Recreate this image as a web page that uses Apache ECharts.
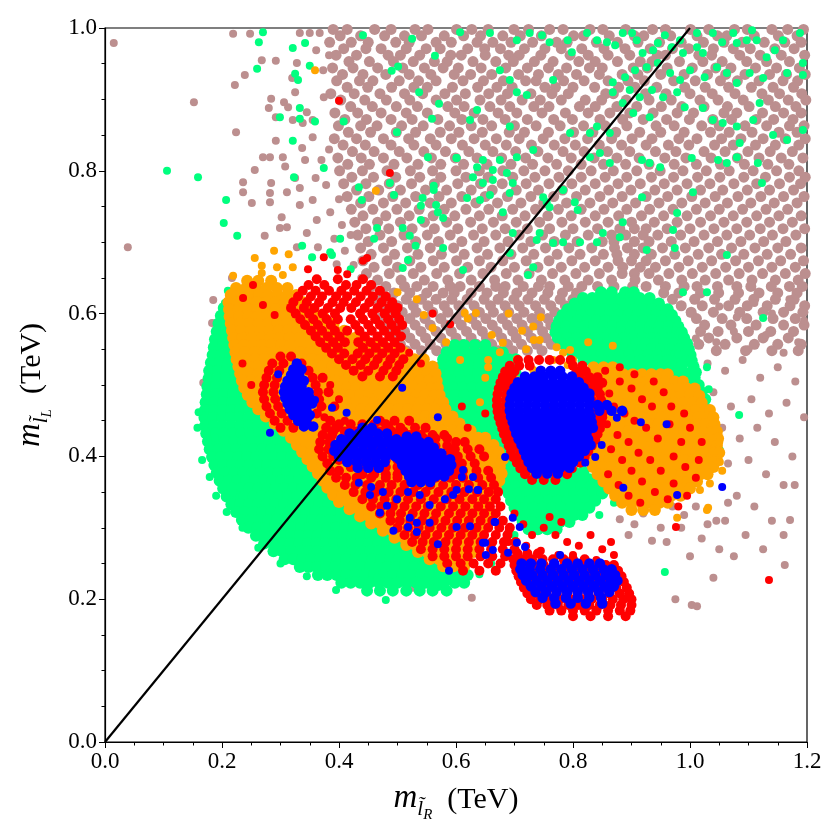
<!DOCTYPE html>
<html>
<head>
<meta charset="utf-8" />
<script src="https://cdn.jsdelivr.net/npm/echarts@6.0.0/dist/echarts.min.js"></script>
<style>
html, body { margin: 0; padding: 0; background: #fff; }
#main { width: 840px; height: 840px; }
</style>
</head>
<body>
<div id="main"></div>
<script>
// all masses in GeV; a row is [y, x1, x2, ...], a point is [x, y]

var brownRows = [
[998,390,414,461,489,530,552,601,627,655,699,724,760,783,829,851,890,936,958,1001,1032,1076,1098,1140,1167,1194],
[989,402,437,478,512,541,580,613,642,680,710,746,801,818,862,905,921,967,1012,1047,1063,1110,1151,1183],
[980,384,421,450,497,520,566,592,636,663,694,731,772,790,840,876,911,948,985,1023,1058,1089,1127,1162,1190],
[971,408,446,472,515,549,573,620,649,676,717,752,780,815,853,889,932,970,998,1040,1074,1103,1145,1178],
[962,395,430,484,505,538,591,609,650,690,708,745,795,826,860,897,944,958,1015,1037,1085,1120,1156,1196],
[953,417,452,493,527,563,585,629,668,698,734,766,810,838,876,915,935,982,1022,1055,1097,1131,1170],
[944,389,424,466,509,546,578,604,643,685,722,758,789,828,850,903,927,961,1004,1044,1070,1112,1148,1187],
[935,406,441,480,520,557,597,625,661,707,741,775,806,845,884,911,950,990,1030,1061,1094,1136,1165,1197],
[926,396,435,458,503,536,566,612,647,681,719,737,784,819,860,894,922,972,1009,1052,1081,1118,1159,1184],
[917,414,449,490,528,551,594,637,670,696,752,770,800,837,878,906,943,991,1026,1066,1105,1142,1177],
[908,386,426,470,512,543,581,616,656,688,728,764,792,856,869,924,959,1000,1038,1077,1123,1153,1191],
[899,403,444,481,521,566,601,641,677,713,744,780,821,849,891,930,968,1017,1048,1091,1134,1168,1198],
[890,420,457,498,534,586,614,658,692,733,759,811,838,875,909,951,986,1024,1064,1101,1146,1181],
[881,393,432,472,515,551,598,631,672,704,747,787,826,863,897,937,978,1006,1058,1080,1124,1160,1190],
[872,410,447,489,525,569,610,646,684,722,767,799,846,885,920,960,999,1039,1071,1113,1143,1176],
[863,399,437,465,507,544,589,626,661,700,737,778,818,855,892,942,973,1020,1050,1094,1131,1170,1195],
[854,416,454,498,531,573,605,645,691,717,758,801,834,873,914,950,990,1035,1067,1106,1152,1183],
[845,392,430,476,519,556,592,631,669,708,749,786,825,866,901,935,981,1012,1054,1087,1125,1163,1197],
[836,407,445,489,528,566,611,650,686,729,768,804,845,883,925,963,998,1042,1074,1112,1146,1186],
[827,423,460,503,545,582,622,663,702,740,783,819,859,897,941,976,1024,1060,1099,1137,1175],
[818,398,438,476,516,558,599,636,678,719,757,797,836,875,913,957,993,1036,1081,1118,1156,1193],
[809,415,452,494,535,574,613,653,694,731,772,814,852,890,930,973,1011,1052,1093,1133,1169],
[800,401,440,482,522,560,600,640,680,716,752,792,831,869,909,949,988,1028,1067,1108,1148,1186],
[791,422,459,497,538,574,617,655,697,735,776,814,855,892,934,972,1013,1051,1092,1129,1170,1197],
[782,408,446,486,524,563,603,642,679,720,759,798,838,877,915,956,995,1034,1075,1114,1153,1189],
[773,430,468,505,548,584,626,662,703,741,782,821,861,899,940,978,1018,1056,1098,1136,1177],
[764,414,451,492,531,571,610,650,688,728,767,806,846,884,925,962,1003,1043,1082,1121,1160,1195],
[755,437,476,514,556,592,634,671,711,750,789,829,868,907,947,986,1026,1064,1104,1144,1183],
[746,421,458,499,537,580,617,656,697,736,775,814,853,892,931,971,1011,1050,1090,1130,1167],
[737,441,480,520,561,598,640,679,718,757,797,838,878,917,955,995,1035,1074,1114,1152,1190],
[728,427,466,505,546,584,625,664,703,743,781,821,860,900,939,978,1018,1058,1097,1136,1175],
[719,446,485,525,563,603,645,684,722,760,800,842,880,905,925,961,1000,1041,1080,1120,1159,1196],
[710,432,470,511,551,590,630,668,708,748,787,826,866,890,920,945,984,1024,1063,1102,1141,1181],
[701,450,490,531,570,610,648,689,728,768,807,850,870,905,930,968,1007,1047,1087,1126,1164],
[692,437,476,517,556,596,636,675,714,753,793,832,871,893,920,953,992,1032,1071,1111,1150,1190],
[683,455,495,535,575,614,654,694,733,773,812,852,875,905,934,974,1014,1054,1092,1132,1172],
[674,441,482,521,561,601,640,680,720,759,798,838,877,900,925,958,997,1037,1078,1117,1155,1194],
[665,460,500,540,580,620,660,700,740,780,820,860,885,915,941,981,1021,1061,1100,1140,1180],
[656,447,486,527,567,606,646,686,725,765,805,845,884,905,930,964,1004,1044,1084,1124,1163,1197],
[647,466,506,546,586,626,666,706,746,786,826,866,906,946,986,1026,1066,1106,1146,1185],
[638,455,480,512,533,561,590,607,640,668,684,715,741,760,792,815,842,870,902,925,958,990,1012,1047,1080,1104,1139,1170,1192],
[629,470,494,521,550,578,597,626,653,681,704,730,757,782,806,955,981,1018,1049,1083,1118,1150,1183],
[620,462,489,515,541,566,593,619,648,672,699,723,751,778,800,970,1008,1042,1077,1109,1146,1178],
[611,473,500,527,552,580,605,631,659,684,708,736,762,787,985,1021,1066,1098,1132,1171,1196],
[602,480,508,532,560,586,611,640,664,690,716,743,769,1002,1040,1085,1125,1160,1193],
[593,468,494,521,547,574,600,627,651,679,704,730,757,1011,1055,1097,1142,1180],
[584,477,503,530,556,583,609,635,662,688,713,740,762,1025,1070,1113,1160,1195],
[575,488,512,540,566,592,618,645,670,697,722,748,1018,1048,1100,1138,1177],
[566,496,521,548,574,600,626,652,678,703,729,754,1032,1080,1125,1168],
[557,505,530,556,583,609,635,661,688,712,738,763,1015,1060,1110,1150,1190],
[548,515,541,567,594,620,645,672,697,722,747,1045,1095,1140,1185]
];

var brownPts = [
[15,979],[39,693],[152,896],[219,992],[248,992],[268,955],[292,954],[239,934],[222,920],[284,901],
[306,896],[280,888],[292,875],[313,889],[224,854],[292,842],[270,819],[282,819],[304,819],[308,806],
[236,784],[256,801],[284,783],[236,770],[282,769],[311,770],[251,755],[282,756],[273,709],[302,735],
[311,721],[328,951],[320,930],[325,910],[321,871],[338,867],[355,847],[337,832],[342,815],[325,790],
[333,776],[333,752],[355,759],[362,731],[345,713],[364,693],[328,693],[299,720],[345,882],[355,871],
[373,941],[383,962],[361,969],[333,993],[350,993],[367,993],[370,815],[378,780],[385,742],[392,705],
[405,724],[410,688],[374,903],[360,790],[383,830],[400,760],[420,710],[396,669],[425,668],[438,650],
[183,587],[168,503],[202,419],[234,356],[234,342],[282,329],[362,265],[362,251],[407,241],[482,223],
[526,216],[578,217],[627,202],[217,650],[185,619],[196,470],[214,395],[305,300],[335,282],[440,232],
[1000,600],[1025,585],[1050,610],[1080,595],[1110,615],[1140,600],[1170,620],[1195,590],[1010,565],[1045,560],
[1075,575],[1100,550],[1130,570],[1160,545],[1185,560],[990,540],[1030,530],[1060,520],[1090,535],[1120,510],
[1150,525],[1180,505],[1005,500],[1040,490],[1070,470],[1105,480],[1135,460],[1165,475],[1195,455],[1055,440],
[1085,425],[1115,440],[1145,420],[1175,400],[1065,390],[1100,395],[1130,375],[1160,360],[1179,360],[1080,345],
[1110,330],[1140,310],[1171,311],[1060,310],[1095,290],[1160,290],[1125,270],[1162,248],[1075,260],[1003,192],
[1012,190],[975,200],[1040,230],[1000,260],[1020,285],[985,300],[1010,330],[970,330],[950,300],[935,282],
[905,305],[920,320],[880,312],[895,290],[1045,310],[1065,335],[1050,270],[960,280],[990,318],[1030,305]
];

var greenRows = [
[608,203,219],[597,198,214,230],[586,194,209,226],[575,191,207,222,237],[564,188,204,219,234],
[553,186,201,216,231],[542,184,199,214,229,243],[531,181,196,211,226,240],[520,178,193,208,223,238,251],
[509,177,192,207,222,237,252],[498,175,190,205,220,235,250,263],[487,174,189,204,219,234,249,264],
[476,172,187,202,217,232,247,262,277],[465,171,186,201,216,231,246,261,276,289],
[454,170,185,200,215,230,245,260,275,290,301],[443,171,186,201,216,231,246,261,276,291,306],
[432,173,188,203,218,233,248,263,278,293,308,319],[421,176,191,206,221,236,251,266,281,296,311,325],
[410,179,194,209,224,239,254,269,284,299,314,329],[399,183,198,213,228,243,258,273,288,303,318,333,343],
[388,187,202,217,232,247,262,277,292,307,322,337,352],[377,191,206,221,236,251,266,281,296,311,326,341,356,365],
[366,196,211,226,241,256,271,286,301,316,331,346,361,374],[355,202,217,232,247,262,277,292,307,322,337,352,367,382],
[344,208,223,238,253,268,283,298,313,328,343,358,373,388],[333,216,231,246,261,276,291,306,321,336,351,366,381,396,406],
[322,224,239,254,269,284,299,314,329,344,359,374,389,404,419],
[311,234,249,264,279,294,309,324,339,354,369,384,399,414,429,442],
[300,245,260,275,290,305,320,335,350,365,380,395,410,425,440,455,466],
[289,258,273,288,303,318,333,348,363,378,393,408,423,438,453,468,483,496],
[278,272,287,302,317,332,347,362,377,392,407,422,437,452,467,482,497,512,524],
[267,288,303,318,333,348,363,378,393,408,423,438,453,468,483,498,513,528,543,552],
[256,307,322,337,352,367,382,397,412,427,442,457,472,487,502,517,532,547,562,577],
[245,333,348,363,378,393,408,423,438,453,468,483,498,513,528,543,558,573,588,603],
[234,364,380,396,412,428,444,460,476,492,508,524,540,556,572,588,604,620],
[223,404,420,436,452,468,484,500,516,532,548,564,580,598,614],
[212,448,470,492,515,538,560,584],
[630,848,866,889,904],[622,817,833,850,866,882,898,914,931],[614,803,819,835,851,867,883,899,915,931,947],
[606,791,807,823,839,855,871,887,903,919,935,951,962],[598,782,798,814,830,846,862,878,894,910,926,942,958,969],
[590,776,792,808,824,840,856,872,888,904,920,936,952,968,975],[582,772,788,804,820,836,852,868,884,900,916,932,948,964,980],
[574,770,786,802,818,834,850,866,882,898,914,930,946,962,978,986],[566,774,790,806,822,838,854,870,886,902,918,934,950,966,982,990],
[558,780,796,812,828,844,860,876,892,908,924,940,956,972,988,995],[550,790,806,822,838,854,870,886,902,918,934,950,966,982,998],
[542,800,816,832,848,864,880,896,912,928,944,960,976,992,1001],[534,818,834,850,866,882,898,914,930,946,962,978,994,1003],
[526,842,858,874,890,906,922,938,954,970,986,1006],[518,858,874,890,906,922,938,954,970,986,1002,1010],
[510,880,896,912,928,944,960,976,992,1008],[500,905,921,937,953,969,985,1001,1015],[490,940,956,972,988,1004,1020],
[480,962,978,994,1010,1026],[470,976,992,1008,1024],[460,986,1002,1018,1031],[450,990,1006,1022],
[440,996,1012,1026],[430,1000,1016],[420,1004,1020],[410,1008],
[556,598,614,632,650],[546,584,600,616,632,648,664,680],[536,578,594,610,626,642,658,674,690,702],
[526,575,591,607,623,639,655,671,687,703],[516,574,590,606,622,638,654,670,686,702],
[506,576,592,608,624,640,656,672,688],[496,579,595,611,627,643,659,675,688],[486,582,598,614,630,646,662,678],
[476,586,602,618,634,650,666,680],[466,590,606,622,638,654,670,682],[456,596,612,628,644,660,676],
[446,603,619,635,651,667,682],[436,612,628,644,660,676,690],[426,650,666,682,694],[416,660,676,692],
[406,666,682,696],[396,670,686,700],[386,675,691,706],
[378,690,706,722,738,754,770,786,802,818],[368,684,700,716,732,748,764,780,796,812,828,844],
[358,686,702,718,734,750,766,782,798,814,830,846,862],[348,690,706,722,738,754,770,786,802,818,834,850],
[338,694,710,726,742,758,774,790,806,822,838],[328,700,716,732,748,764,780,796,812,828],
[318,706,722,738,754,770,786,802,816],[308,714,730,746,762,778,794],[298,724,740,756,772]
];

var greenPts = [
[607,994],[658,993],[704,983],[726,993],[747,990],[760,980],[791,983],[798,966],[824,993],[841,983],
[858,980],[872,976],[885,993],[901,993],[909,983],[919,965],[937,969],[945,979],[957,990],[969,973],
[983,983],[988,965],[1012,993],[1012,973],[1022,965],[1039,993],[1055,980],[1074,993],[1080,979],[1097,983],
[1106,997],[1114,983],[1131,959],[1145,969],[1159,983],[1188,993],[1193,951],[1193,934],[1166,937],[1125,930],
[1102,937],[1080,923],[1063,937],[1046,945],[1025,931],[1000,941],[983,927],[966,937],[945,951],[926,945],
[906,941],[889,931],[868,924],[897,913],[914,903],[935,913],[954,903],[978,910],[991,889],[1022,888],
[1039,871],[1056,867],[1080,862],[1085,839],[1108,871],[1119,895],[1142,850],[1166,843],[1193,857],[903,881],
[931,875],[885,895],[868,910],[841,862],[863,853],[829,853],[829,819],[846,825],[863,811],[918,815],
[931,811],[949,805],[1003,818],[1048,815],[1063,811],[1080,819],[1116,811],[1123,783],[1005,770],[918,763],
[978,741],[885,728],[971,717],[926,689],[974,692],[1063,682],[880,707],[851,713],[841,700],[812,700],
[783,700],[766,699],[738,703],[760,749],[755,756],[803,756],[808,745],[783,773],[749,763],[743,713],
[697,713],[692,685],[732,665],[612,661],[723,654],[704,819],[687,797],[663,787],[646,783],[636,805],
[646,815],[619,762],[641,759],[658,766],[680,742],[663,801],[675,815],[629,791],[697,783],[601,818],
[732,829],[692,769],[766,927],[721,906],[704,910],[692,927],[675,941],[636,885],[624,871],[692,862],
[795,853],[270,994],[263,980],[260,943],[321,972],[342,979],[350,947],[325,936],[330,927],[333,888],
[299,875],[333,873],[359,869],[321,842],[408,869],[374,804],[323,791],[106,800],[159,791],[207,759],
[203,727],[226,709],[441,990],[525,985],[564,961],[490,940],[501,946],[537,910],[571,894],[559,873],
[499,854],[552,819],[601,818],[434,777],[439,759],[487,783],[494,766],[543,762],[540,751],[562,779],
[562,773],[566,752],[569,742],[578,734],[540,731],[509,720],[465,720],[460,705],[402,705],[521,709],
[531,695],[578,692],[337,695],[354,679],[385,686],[518,675],[509,664],[388,682],[420,662],[455,640],
[1125,594],[1029,525],[1032,494],[1084,458],[1051,409],[988,630],[1029,630],[954,573],[980,543],[1025,420],
[1034,445],[957,238],[480,199],[427,227],[465,230],[569,217],[174,433],[188,426],[179,371],[219,349],
[205,615],[205,603],[200,458],[186,560],[210,632],[640,235],[660,250],[700,290],[845,318],[870,335],
[160,462],[158,440],[166,395],[190,345],[208,322],[235,300],[262,272],[300,250],[345,232],[395,213]
];

var orangeRows = [
[646,243,262,284],[636,224,241,258,276,294,312],[626,215,231,247,263,279,295,311,327],
[616,211,227,243,259,275,291,307,323,339],[606,212,228,244,260,276,292,308,324,340,356],
[596,213,229,245,261,277,293,309,325,341,357,373],[586,215,231,247,263,279,295,311,327,343,359,375,391],
[576,217,233,249,265,281,297,313,329,345,361,377,393,409],
[566,219,235,251,267,283,299,315,331,347,363,379,395,411,427,443],
[556,221,237,253,269,285,301,317,333,349,365,381,397,413,429,445,461,476],
[546,223,239,255,271,287,303,319,335,351,367,383,399,415,431,447,463,479,495,511],
[536,225,241,257,273,289,305,321,337,353,369,385,401,417,433,449,465,481,497,513,529,545],
[526,228,244,260,276,292,308,324,340,356,372,388,404,420,436,452,468,484,500,516,532,548,560],
[516,231,247,263,279,295,311,327,343,359,375,391,407,423,439,455,471,487,503,519,535,551,565],
[506,234,250,266,282,298,314,330,346,362,378,394,410,426,442,458,474,490,506,522,538,554,567],
[496,238,254,270,286,302,318,334,350,366,382,398,414,430,446,462,478,494,510,526,542,558,569],
[486,244,260,276,292,308,324,340,356,372,388,404,420,436,452,468,484,500,516,532,548,564,572],
[476,252,268,284,300,316,332,348,364,380,396,412,428,444,460,476,492,508,524,540,556,572,578],
[466,262,278,294,310,326,342,358,374,390,406,422,438,454,470,486,502,518,534,550,566,582],
[456,275,291,307,323,339,355,371,387,403,419,435,451,467,483,499,515,531,547,563,579,594],
[446,290,306,322,338,354,370,386,402,418,434,450,466,482,498,514,530,546,562,578,594,606],
[436,305,321,337,353,369,385,401,417,433,449,465,481,497,513,529,545,561,577,593,609,625],
[426,318,334,350,366,382,398,414,430,446,462,478,494,510,526,542,558,574,590,606,622,638,650],
[416,328,344,360,376,392,408,424,440,456,472,488,504,520,536,552,568,584,600,616,632,648,664],
[406,337,353,369,385,401,417,433,449,465,481,497,513,529,545,561,577,593,609,625,641,657,673],
[396,346,362,378,394,410,426,442,458,474,490,506,522,538,554,570,586,602,618,634,650,666,680],
[386,355,371,387,403,419,435,451,467,483,499,515,531,547,563,579,595,611,627,643,659,675],
[376,364,380,396,412,428,444,460,476,492,508,524,540,556,572,588,604,620,636,652,668,678],
[366,372,388,404,420,436,452,468,484,500,516,532,548,564,580,596,612,628,644,660,674],
[356,380,396,412,428,444,460,476,492,508,524,540,556,572,588,604,620,636,652,668],
[346,390,406,422,438,454,470,486,502,518,534,550,566,582,598,614,630,646,662],
[336,400,416,432,448,464,480,496,512,528,544,560,576,592,608,624,640,656],
[326,418,434,450,466,482,498,514,530,546,562,578,594,610,626,642,656],
[316,436,452,468,484,500,516,532,548,564,580,596,612,628,644,652],
[306,455,471,487,503,519,535,551,567,583,599,615,631,647],
[296,475,491,507,523,539,555,571,587,603,619,635,644],
[286,495,511,527,543,559,575,591,607,623,639],[276,515,531,547,563,579,595,611,627,636],
[266,535,551,567,583,599,615,630],[256,555,571,587,603,619],[246,578,596,614],
[525,835,852,868],[515,822,838,854,870,886,902,918,934,950,962],
[505,830,846,862,878,894,910,926,942,958,974,988],[495,835,851,867,883,899,915,931,947,963,979,995,1008],
[485,840,856,872,888,904,920,936,952,968,984,1000,1016],[475,845,861,877,893,909,925,941,957,973,989,1005,1020],
[465,850,866,882,898,914,930,946,962,978,994,1010,1026,1034],[455,854,870,886,902,918,934,950,966,982,998,1014,1030,1040],
[445,850,866,882,898,914,930,946,962,978,994,1010,1026,1042],[435,846,862,878,894,910,926,942,958,974,990,1006,1022,1038,1046],
[425,842,858,874,890,906,922,938,954,970,986,1002,1018,1034,1048],[415,838,854,870,886,902,918,934,950,966,982,998,1014,1030,1046],
[405,834,850,866,882,898,914,930,946,962,978,994,1010,1026,1042,1050],[395,830,846,862,878,894,910,926,942,958,974,990,1006,1022,1038,1046],
[385,834,850,866,882,898,914,930,946,962,978,994,1010,1026,1040],[375,842,858,874,890,906,922,938,954,970,986,1002,1018,1030],
[365,852,868,884,900,916,932,948,964,980,996,1012],[355,862,878,894,910,926,942,958,974,990,1000],
[345,872,888,904,920,936,952,968,984],[335,884,900,916,932,948,962],[325,900,920,940]
];

var orangePts = [
[359,941],[463,772],[256,678],[289,688],[314,683],[268,667],[294,665],[321,665],[304,654],[219,653],
[268,657],[533,620],[620,593],[634,601],[661,570],[680,559],[713,576],[732,582],[733,563],[704,536],
[675,546],[655,525],[670,489],[684,483],[641,476],[704,507],[718,507],[783,545],[766,535],[800,535],
[791,528],[615,601],[607,535],[655,535],[826,560],[868,555],[706,535],[732,521],[772,553],[795,549],
[743,563],[1039,447],[1046,395],[1029,395],[1031,328],[978,314],[1017,353],[1051,392],[1034,362],[1029,325],
[583,560],[560,580],[545,598],[500,630],[690,600],[745,595],[720,550],[650,510],[1050,420],[1055,380]
];

var redRows = [
[648,362,398,441],[640,348,375,412,430,455],[632,338,360,383,404,426,447,470],
[624,330,352,371,395,414,437,458,480],[616,322,345,366,389,408,429,452,473,491],
[608,318,340,358,381,402,421,444,466,486,500],[600,326,349,372,393,436,457,478,497],
[592,334,356,379,398,420,441,462,484,503],[584,342,364,386,428,450,470,490,508],
[576,352,371,393,414,435,456,477,497],[568,360,381,401,444,466,486,506],
[560,368,390,410,433,454,475,495],[552,378,398,441,463,484,505],[544,388,409,432,452,474,495],
[536,400,423,445,466,488,510],[528,412,437,460,483,503],[520,425,450,476,498],[512,440,470,492],
[540,300,318],[530,286,305,336],[520,280,298,348],[510,276,294,355,372],[500,272,290,360],
[490,270,288,364,382],[480,272,291,366],[470,276,296,370,392],[460,282,302,362],[450,290,312,345],[440,300,322],
[450,385,470,495,520],[445,400,420,440,460,480],[440,378,395,485,505,530,548],
[435,390,410,430,450,470,490,510],[430,372,388,500,520,540,560,580],
[425,385,405,425,445,465,485,505,525,545,565,585],[420,368,384,600,615],
[415,385,405,425,445,465,485,505,525,545,565,585],[410,366,382,598,620,640],
[405,390,410,430,450,470,490,510,530,550,570,590],[400,372,390,603,625,648],
[395,400,420,440,460,480,500,520,540,560,580,600],[390,380,610,632],
[385,420,440,460,480,500,520,540,560,580,600],[380,385,400,612,635,655],
[375,440,460,480,500,520,540,560,580,600],
[370,395,412,430,455,480,500,520,545,565,590,612,638,660],
[360,410,428,448,470,490,512,535,556,578,600,622,645,665],
[350,425,445,463,485,505,527,548,570,592,614,636,656,672],
[340,440,458,478,498,518,540,562,584,606,628,648,668],
[330,455,472,492,512,532,552,574,595,616,638,658,676],
[320,470,488,506,526,546,566,588,608,628,648,668],
[310,488,504,522,542,562,582,602,622,642,662,680],
[300,500,518,536,555,575,595,615,635,655,674,692],
[290,512,530,548,568,588,608,628,648,668,688],
[280,525,543,562,582,602,622,642,662,682,702],
[270,540,560,580,600,620,640,660,680,700],
[260,560,580,600,620,642,662,684],[250,585,608,630,655,676],[240,612,640,668],
[535,706,724,742,760,778,796],[527,692,708,726,800,816],[519,684,700,806,822],
[511,680,695,812,828,842],[503,676,690,820,836,850],[495,673,688,826,842],[487,671,686,830,846],
[479,670,685,832,848],[471,670,684,834,850],[463,671,686,836,852],[455,673,688,836,850],
[447,676,690,834,848],[439,679,693,832,846],[431,682,696,828,842],[423,686,700,822,838],
[415,690,704,818,832],[407,694,710,812,826],[399,698,714,806,820],[391,704,720,796,812],
[383,710,726,744,762,780,798],[375,718,736,754,772,790],[367,730,750,770],
[264,705,722,740],[256,698,714,730,748,766,784,800,820],
[248,700,716,732,750,768,786,804,822,840,856,870],[240,703,719,735,753,771,789,807,825,843,861,877],
[232,707,723,739,757,775,793,811,829,847,865,883],[224,711,727,743,761,779,797,815,833,851,869,887],
[216,716,732,748,766,784,802,820,838,856,874,892],[208,722,738,754,772,790,808,826,844,862,880,896],
[200,728,744,760,778,796,814,832,850,868,886,900],[192,738,756,774,792,810,828,846,864,882,900],
[184,760,780,800,820,840,860,880,898],[176,800,830,860,890]
];

var redPts = [
[400,898],[487,797],[374,679],[398,661],[414,655],[441,674],[448,678],[347,662],[1135,227],[976,301],
[236,622],[253,640],[270,612],[290,598],[235,530],[250,500],[385,500],[400,480],[375,455],[410,450],
[845,500],[862,488],[880,505],[900,495],[918,480],[935,470],[955,490],[870,470],[888,460],[905,450],
[925,440],[945,425],[965,445],[985,420],[858,445],[876,430],[895,420],[912,405],[932,395],[950,380],
[972,400],[992,385],[1010,370],[865,410],[884,395],[900,380],[918,365],[940,350],[962,340],[980,330],
[860,375],[878,360],[895,345],[915,335],[855,520],[880,525],[905,515],[1000,440],[1020,420],[1015,395],
[968,470],[990,460],[850,460],[938,505],[972,362],[995,345],[760,470],[742,505],[785,440],[730,420],
[700,320],[715,305],[690,295],[730,290],[750,300],[770,290],[790,280],[810,275],[830,290],[850,270],
[865,280],[720,275],[745,268],[775,262],[800,262],[840,255],[870,262],[705,265],[690,280],[760,315],
[780,308],[560,600],[590,585],[520,545],[540,530],[610,470],[620,440],[650,460]
];

var blueRows = [
[530,328],[522,322,336],[514,318,332],[506,312,326,340],[498,308,322,336],[490,306,320,334,348],
[482,308,322,336,350],[474,312,326,340,354],[466,316,330,344],[458,322,336,350],[450,330,344],[442,340,356],
[440,440,456],[432,418,434,450,466,482],[424,404,420,436,452,468,484,498],
[416,394,410,426,442,458,474,490,505],[408,392,408,424,440,456,472,488,503],
[400,400,416,432,448,464,480,496],[392,414,430,446,462,478],[384,432,450,468],
[428,516,532],[420,508,523,538,553],[412,502,517,532,547,562],[404,500,515,530,545,560,575],
[396,503,518,533,548,563,578,590],[388,508,523,538,553,568,583,592],[380,514,529,544,559,574,588],
[372,520,535,550,565,580],[364,524,540,556],
[520,745,762,778],[512,718,734,750,766,782,798],[504,706,721,736,751,766,781,796,810],
[496,700,715,730,745,760,775,790,805,818],[488,695,710,725,740,755,770,785,800,815,828],
[480,693,708,723,738,753,768,783,798,813,828],[472,692,707,722,737,752,767,782,797,812,827,842,858],
[464,692,707,722,737,752,767,782,797,812,827,845,866,884],[456,694,709,724,739,754,769,784,799,814,830],
[448,697,712,727,742,757,772,787,802,817,832],[440,700,715,730,745,760,775,790,805,820,834],
[432,703,718,733,748,763,778,793,808,823],[424,707,722,737,752,767,782,797,812,826],
[416,712,727,742,757,772,787,802,817,830],[408,716,731,746,761,776,791,806,820],
[400,720,735,750,765,780,795,810],[392,724,739,754,769,784,800],[384,730,746,762,778,794],[376,738,756,774],
[250,712,728,746,768,790,808,828,846],[242,710,726,744,762,780,798,816,834,852,866],
[234,714,730,748,766,784,802,820,838,856,872],[226,720,738,756,774,792,810,828,846,864,876],
[218,728,746,764,782,800,818,836,854,870],[210,736,754,772,790,808,826,844,862],
[202,748,768,788,808,828,848],[194,770,796,822,850]
];

var bluePts = [
[282,433],[296,515],[359,479],[388,468],[413,461],[354,441],[465,451],[508,496],[569,455],
[434,363],[453,346],[475,350],[482,331],[470,321],[493,296],[455,357],[499,340],[518,350],[538,346],
[555,332],[581,340],[595,346],[610,371],[629,371],[637,353],[622,354],[521,314],[533,307],[555,307],
[533,294],[518,301],[569,277],[601,301],[624,302],[646,279],[651,262],[663,269],[666,308],[588,240],
[612,381],[601,353],[638,353],[667,308],[697,314],[709,301],[650,279],[689,265],[704,279],[718,273],
[778,262],[684,399],[821,391],[838,399],[849,416],[875,454],[916,448],[960,445],[886,356],[978,346],[1055,357]
];

var diagonal = [[0, 0], [1, 1]];
var xTicks = [0, 0.2, 0.4, 0.6, 0.8, 1.0, 1.2];
var yTicks = [0, 0.2, 0.4, 0.6, 0.8, 1.0];

function fromRows(rows) {
    var out = [];
    rows.forEach(function (r) {
        for (var i = 1; i < r.length; i++) out.push([r[i] / 1000, r[0] / 1000]);
    });
    return out;
}
function fromPts(list) {
    return list.map(function (p) { return [p[0] / 1000, p[1] / 1000]; });
}
function dots(data, color, size) {
    return {
        type: 'scatter', data: data, symbolSize: size, silent: true,
        animation: false, progressive: 0, clip: true,
        itemStyle: { color: color, opacity: 1 }
    };
}

var serif = "'Liberation Serif', 'DejaVu Serif', serif";
function nameRich() {
    return {
        m: { fontFamily: serif, fontStyle: 'italic', fontSize: 33, color: '#000', verticalAlign: 'bottom', padding: [0, 0, 8, 0] },
        l: { fontFamily: serif, fontStyle: 'italic', fontSize: 21, color: '#000', verticalAlign: 'bottom', padding: [0, 0, 3, 0] },
        r: { fontFamily: serif, fontStyle: 'italic', fontSize: 15, color: '#000', verticalAlign: 'bottom', padding: [0, 0, 0, 0] },
        t: { fontFamily: serif, fontSize: 30, color: '#000', verticalAlign: 'bottom', padding: [0, 0, 8, 0] }
    };
}

var axisCommon = {
    type: 'value',
    nameLocation: 'middle',
    axisLine: { show: true, onZero: false, lineStyle: { color: '#000', width: 1.2 } },
    axisTick: { show: true, inside: false, length: 6, lineStyle: { color: '#000', width: 1 } },
    minorTick: { show: true, splitNumber: 4, length: 3.5, lineStyle: { color: '#000', width: 1 } },
    splitLine: { show: false },
    axisLabel: {
        fontFamily: serif, fontSize: 23, color: '#000', margin: 8,
        formatter: function (v) { return v.toFixed(1); }
    }
};

var myChart = echarts.init(document.getElementById('main'));
var option = {
    backgroundColor: '#fff',
    animation: false,
    grid: {
        left: 105, right: 33, top: 28, bottom: 98,
        show: true, borderColor: '#000', borderWidth: 1.2,
        outerBoundsMode: 'none'
    },
    xAxis: Object.assign({}, axisCommon, {
        min: xTicks[0], max: xTicks[xTicks.length - 1], interval: 0.2,
        name: '{m|m}{l|l\u0303}{r|R}{t|  (TeV)}', nameGap: 40,
        nameTextStyle: { rich: nameRich() }
    }),
    yAxis: Object.assign({}, axisCommon, {
        min: yTicks[0], max: yTicks[yTicks.length - 1], interval: 0.2,
        name: '{m|m}{l|l\u0303}{r|L}{t|  (TeV)}', nameGap: 50, nameRotate: 90,
        nameTextStyle: { rich: nameRich() }
    }),
    series: [
        dots(fromRows(brownRows), '#bc8f8f', 11),
        dots(fromPts(brownPts), '#bc8f8f', 8),
        dots(fromRows(greenRows), '#00ff7f', 12),
        dots(fromPts(greenPts), '#00ff7f', 8),
        dots(fromRows(orangeRows), '#ffa500', 12),
        dots(fromPts(orangePts), '#ffa500', 8),
        dots(fromRows(redRows), '#ff0000', 10),
        dots(fromPts(redPts), '#ff0000', 8),
        dots(fromRows(blueRows), '#0000ff', 10.5),
        dots(fromPts(bluePts), '#0000ff', 8),
        {
            type: 'line', data: diagonal, symbol: 'none', silent: true, animation: false, z: 5,
            lineStyle: { color: '#000', width: 2.2 }
        }
    ]
};
myChart.setOption(option);
</script>
</body>
</html>
